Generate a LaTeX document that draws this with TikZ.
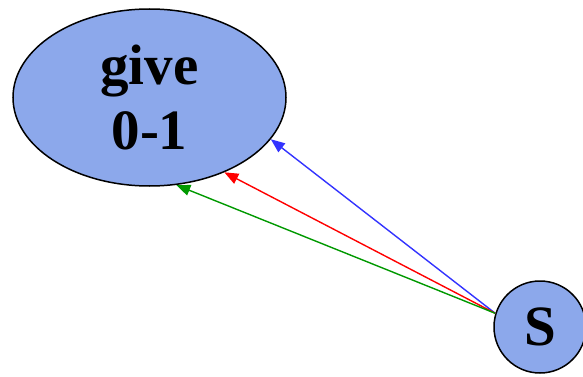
\documentclass[tikz,border=0pt]{standalone}
\usepackage{fontspec}
\setmainfont{Liberation Serif}
\usetikzlibrary{arrows.meta, positioning, shapes.geometric}

\definecolor{knotblau}{RGB}{140,168,235}
\definecolor{pfeilblau}{RGB}{51,51,255}
\definecolor{pfeilgruen}{RGB}{0,153,0}

\tikzset{
  zustand/.style={draw=black, line width=1.5pt, fill=knotblau, inner sep=0pt,
    font=\fontsize{57}{65}\selectfont\bfseries, align=center},
  kante/.style={line width=1.4pt, -{Triangle[length=14pt, width=11pt]}}
}

\begin{document}
\begin{tikzpicture}[x=1pt, y=-1pt]
  \useasboundingbox (0,0) rectangle (583,377);

  % Knoten
  \node[zustand, ellipse, minimum width=273pt, minimum height=177pt] (give) at (149.5,97.5) {give\\0-1};
  \node[zustand, circle, minimum size=92pt] (S) at (540,327) {S};

  % Kanten
  \draw[kante, pfeilblau] (S.163) -- (give.341);
  \draw[kante, red] (S.163) -- (give.315);
  \draw[kante, pfeilgruen] (S.163) -- (give.287);
\end{tikzpicture}
\end{document}
